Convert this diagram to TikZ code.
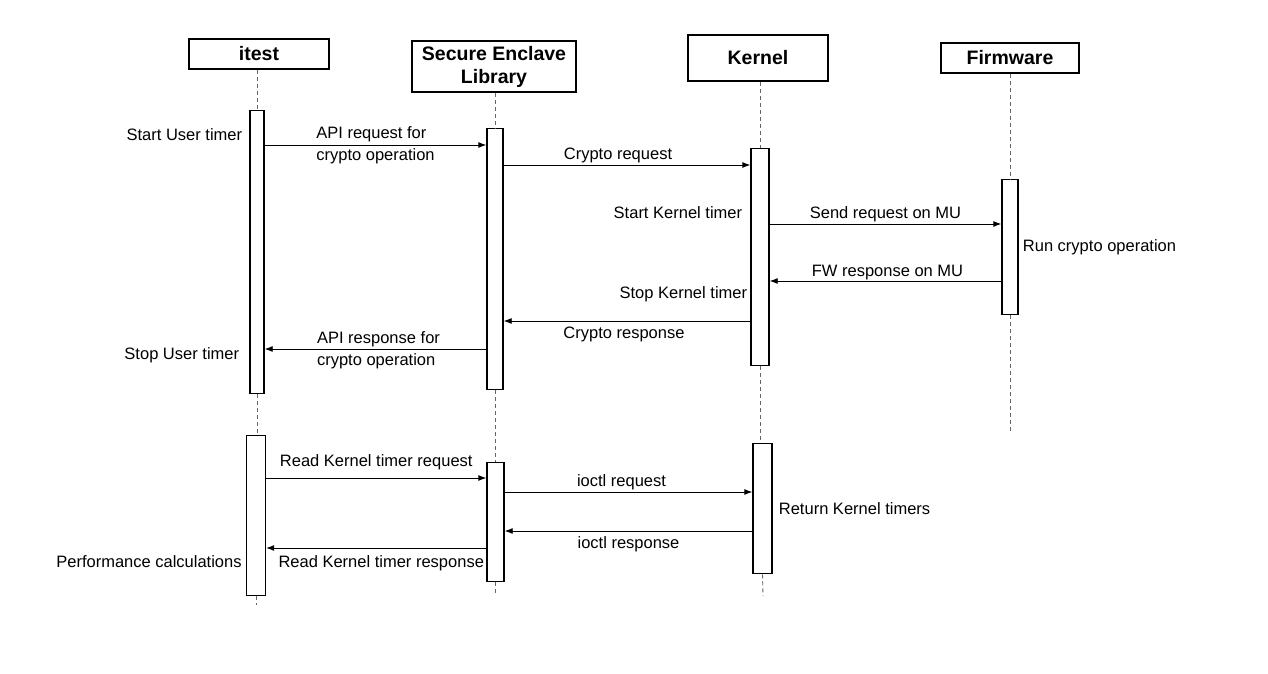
\documentclass[tikz,border=0pt]{standalone}
\usepackage{fontspec}
\setmainfont{Liberation Sans}
\usetikzlibrary{arrows.meta}

\tikzset{
	actor/.style={draw, line width=1.9pt, align=center, inner sep=0pt,
		font=\bfseries\fontsize{19.5}{23}\selectfont},
	bar/.style={draw, line width=1.4pt, fill=white, minimum width=15pt, inner sep=0pt, anchor=north},
	life/.style={gray!80!black, line width=0.9pt, dash pattern=on 4pt off 3pt},
	msg/.style={-{Latex[length=8pt,width=6pt]}, line width=0.9pt},
	lbl/.style={inner sep=2pt, align=left},
}

\begin{document}
\begin{tikzpicture}[x=1pt, y=-1pt, font=\fontsize{16.5}{22}\selectfont]
		\useasboundingbox[fill=white] (0,0) rectangle (1268,674);
		% headers
		\node[actor, minimum width=140pt, minimum height=30pt] (itest) at (259,54) {itest};
		\node[actor, minimum width=164pt, minimum height=51pt] (sel) at (494,66.5) {Secure Enclave\\Library};
		\node[actor, minimum width=140pt, minimum height=46pt] (kern) at (758,58) {Kernel};
		\node[actor, minimum width=138pt, minimum height=30pt] (fw) at (1010,58) {Firmware};
		% activation bars
		\node[bar, minimum height=283pt, minimum width=14pt] (ia) at (257,110) {};
		\node[bar, minimum height=160pt, minimum width=19pt] (ib) at (256,435) {};
		\node[bar, minimum height=261pt, minimum width=16pt] (sa) at (495,128) {};
		\node[bar, minimum height=119pt, minimum width=17pt] (sb) at (495.5,462) {};
		\node[bar, minimum height=217pt, minimum width=18pt] (ka) at (760,148) {};
		\node[bar, minimum height=130pt, minimum width=19pt] (kb) at (762.5,443) {};
		\node[bar, minimum height=135pt, minimum width=16pt] (fa) at (1010,179) {};
		\coordinate (iend) at (256,605);
		\coordinate (send) at (496,596);
		\coordinate (kend) at (763,596);
		\coordinate (fend) at (1010,432);
		% lifelines
		\draw[life] (ia.north |- itest.south) -- (ia.north);
		\draw[life] (ia.south) -- (ia.south |- ib.north);
		\draw[life] (ib.south) -- (iend);
		\draw[life] (sa.north |- sel.south) -- (sa.north);
		\draw[life] (sa.south) -- (sa.south |- sb.north);
		\draw[life] (sb.south) -- (sb.south |- send);
		\draw[life] (ka.north |- kern.south) -- (ka.north);
		\draw[life] (ka.south) -- (ka.south |- kb.north);
		\draw[life] (kb.south) -- (kend);
		\draw[life] (fa.north |- fw.south) -- (fa.north);
		\draw[life] (fa.south) -- (fend);
		% messages
		\draw[msg] (ia.east |- 0,145) -- (sa.west |- 0,145)
			node[lbl, midway] {API request for\\crypto operation};
		\draw[msg] (sa.east |- 0,165) -- (ka.west |- 0,165)
			node[lbl, midway, above, xshift=-9pt] {Crypto request};
		\draw[msg] (ka.east |- 0,224) -- (fa.west |- 0,224)
			node[lbl, midway, above] {Send request on MU};
		\draw[msg] (fa.west |- 0,281) -- (ka.east |- 0,281)
			node[lbl, midway, above, xshift=2pt, yshift=-1pt] {FW response on MU};
		\draw[msg] (ka.west |- 0,321) -- (sa.east |- 0,321)
			node[lbl, midway, below, xshift=-3pt, yshift=-4pt] {Crypto response};
		\draw[msg] (sa.west |- 0,349) -- (ia.east |- 0,349)
			node[lbl, midway, yshift=-1pt, xshift=3pt] {API response for\\crypto operation};
		\draw[msg] (ib.east |- 0,478) -- (sb.west |- 0,478)
			node[lbl, midway, above, yshift=6pt] {Read Kernel timer request};
		\draw[msg] (sb.east |- 0,492) -- (kb.west |- 0,492)
			node[lbl, midway, above, xshift=-7pt] {ioctl request};
		\draw[msg] (kb.west |- 0,531) -- (sb.east |- 0,531)
			node[lbl, midway, below, yshift=-3pt] {ioctl response};
		\draw[msg] (sb.west |- 0,548) -- (ib.east |- 0,548)
			node[lbl, midway, below, xshift=5pt, yshift=-5pt] {Read Kernel timer response};
		% notes beside the bars
		\node[lbl, anchor=east, xshift=-5pt] (n1) at (ia.west |- 0,135) {Start User timer};
		\node[lbl, anchor=east, xshift=-8pt] (n2) at (ia.west |- 0,355) {Stop User timer};
		\node[lbl, anchor=east, xshift=-6pt] (n3) at (ka.west |- 0,213) {Start Kernel timer};
		\node[lbl, anchor=east, xshift=-1pt] (n4) at (ka.west |- 0,294) {Stop Kernel timer};
		\node[lbl, anchor=west, xshift=2pt] (n5) at (fa.east |- 0,247) {Run crypto operation};
		\node[lbl, anchor=west, xshift=4pt] (n6) at (kb.east |- 0,509) {Return Kernel timers};
		\node[lbl, anchor=east, xshift=-2pt] (n7) at (ib.west |- 0,562) {Performance calculations};
	\end{tikzpicture}
\end{document}
